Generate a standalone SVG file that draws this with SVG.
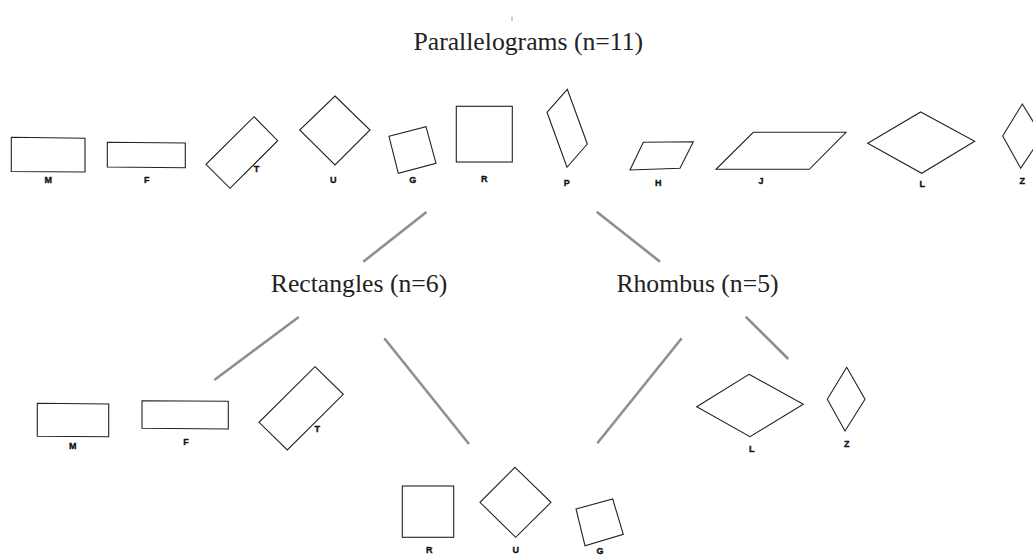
<svg xmlns="http://www.w3.org/2000/svg" width="1033" height="555" viewBox="0 0 1033 555">
<style>
.shape{fill:#fff;stroke:#222;stroke-width:1.1;stroke-linejoin:miter}
.lbl{font-family:"Liberation Sans",Arial,sans-serif;font-weight:bold;font-size:9px;fill:#111;stroke:#111;stroke-width:0.35;text-anchor:middle}
.title{font-family:"Liberation Serif","Times New Roman",serif;font-size:25.7px;fill:#222;text-anchor:middle}
.conn{stroke:#8f8f8f;stroke-width:2.6;stroke-linecap:butt;fill:none}
</style>
<rect width="1033" height="555" fill="#fff"/>
<line x1="512" y1="16.5" x2="512" y2="21" stroke="#999" stroke-width="1"/>
<g id="title-parallelograms"><text class="title" x="528.3" y="50">Parallelograms (n=11)</text></g>
<g id="title-rectangles"><text class="title" x="359" y="292">Rectangles (n=6)</text></g>
<g id="title-rhombus"><text class="title" x="697.5" y="292">Rhombus (n=5)</text></g>
<g id="connectors">
<line class="conn" x1="426.5" y1="212" x2="363.3" y2="261.7"/>
<line class="conn" x1="596.7" y1="211.7" x2="660" y2="261.7"/>
<line class="conn" x1="298.8" y1="317" x2="214.3" y2="380"/>
<line class="conn" x1="384.3" y1="338.3" x2="469" y2="444"/>
<line class="conn" x1="681.7" y1="338.3" x2="597.3" y2="443.3"/>
<line class="conn" x1="745.7" y1="316.7" x2="788.3" y2="359"/>
</g>
<g id="top-M"><polygon class="shape" points="11.3,137.3 85,138.3 85,172 11.3,171.5"/><text class="lbl" x="48.3" y="183.3">M</text></g>
<g id="top-F"><polygon class="shape" points="107.3,142.3 185.3,143 185.3,167.7 107.3,167"/><text class="lbl" x="146.7" y="183.3">F</text></g>
<g id="top-T"><polygon class="shape" points="254,116.7 277.7,140.7 230,188.3 206,164.3"/><text class="lbl" x="256.5" y="172.3">T</text></g>
<g id="top-U"><polygon class="shape" points="335,96 370,130 335,165 299.7,130"/><text class="lbl" x="333.3" y="182.6">U</text></g>
<g id="top-G"><polygon class="shape" points="389,136.3 426,126.7 436,163.3 398.3,173.3"/><text class="lbl" x="412.7" y="183.3">G</text></g>
<g id="top-R"><rect class="shape" x="456.3" y="106.3" width="56" height="55.7"/><text class="lbl" x="484.3" y="181.6">R</text></g>
<g id="top-P"><polygon class="shape" points="567.3,89.3 587.3,144 567,167.3 547,112.3"/><text class="lbl" x="566.7" y="186">P</text></g>
<g id="top-H"><polygon class="shape" points="643.3,142.3 693.3,141.7 680,168.3 630,170"/><text class="lbl" x="658.3" y="186">H</text></g>
<g id="top-J"><polygon class="shape" points="753.3,132.3 846,132.3 809.3,169.3 716,169.3"/><text class="lbl" x="761" y="184.3">J</text></g>
<g id="top-L"><polygon class="shape" points="920.7,112 974.7,141.3 921.7,173.3 867.7,143.3"/><text class="lbl" x="922.3" y="186.6">L</text></g>
<g id="top-Z"><polygon class="shape" points="1022.3,104 1042,136 1020.7,168.3 1002.7,136"/><text class="lbl" x="1022.3" y="184.3">Z</text></g>
<g id="bot-M"><polygon class="shape" points="37.3,403.3 108.7,404 108.7,436.7 37.3,436.3"/><text class="lbl" x="72.7" y="449">M</text></g>
<g id="bot-F"><polygon class="shape" points="142,400.7 228.3,401.3 228.3,429 142,428.3"/><text class="lbl" x="186" y="445">F</text></g>
<g id="bot-T"><polygon class="shape" points="315,366.7 343.3,394.3 287.3,450 259,422.3"/><text class="lbl" x="317.3" y="431.6">T</text></g>
<g id="bot-R"><rect class="shape" x="402.3" y="486" width="51.4" height="51.3"/><text class="lbl" x="429.3" y="553.3">R</text></g>
<g id="bot-U"><polygon class="shape" points="515,467.3 551,502.3 515.7,537.3 480,502.3"/><text class="lbl" x="515.7" y="553.3">U</text></g>
<g id="bot-G"><polygon class="shape" points="576,509 612.7,499 623.3,534.3 585,545.7"/><text class="lbl" x="600" y="554.3">G</text></g>
<g id="bot-L"><polygon class="shape" points="749,374.3 803.3,404.3 750,436.7 696.7,406.7"/><text class="lbl" x="751.7" y="451.6">L</text></g>
<g id="bot-Z"><polygon class="shape" points="846.7,367.3 865,399.3 845,431 827.3,399.3"/><text class="lbl" x="846.7" y="447.3">Z</text></g>
</svg>
